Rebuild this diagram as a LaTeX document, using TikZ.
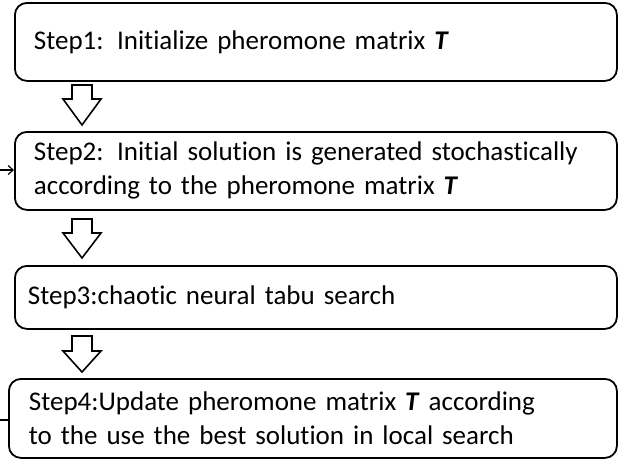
\documentclass[tikz,border=0pt]{standalone}
\usepackage{fontspec}
\setmainfont{Carlito}[Ligatures={NoCommon,NoContextual}]
\usetikzlibrary{arrows.meta}
\tikzset{
  stepbox/.style={draw=black, line width=1.8pt, rounded corners=12pt, anchor=north west,
    align=left, font=\fontsize{27}{34}\selectfont, inner ysep=0pt},
  harrow/.style={draw=black, line width=1.6pt, fill=white, line join=miter},
  link/.style={draw=black, line width=1.2pt}
}
\newcommand\hollowarrow[4]{% x, top, shoulder, tip
  \draw[harrow] (#1-10,#2) -- (#1+10,#2) -- (#1+10,#3) -- (#1+19,#3) -- (#1,#4)
    -- (#1-19,#3) -- (#1-10,#3) -- cycle;}
\begin{document}
\begin{tikzpicture}[x=1pt,y=-1pt]
\useasboundingbox (0,0) rectangle (626,459);
\node[stepbox, minimum width=602pt, minimum height=78pt, text width=564pt, inner xsep=19pt] (s1) at (14,2)
  {Step1: Initialize pheromone matrix \textbf{\textit{T}}};
\node[stepbox, minimum width=602pt, minimum height=78pt, text width=564pt, inner xsep=19pt] (s2) at (14,131)
  {Step2: Initial solution is generated stochastically\\according to the pheromone matrix \textbf{\textit{T}}};
\node[stepbox, minimum width=602pt, minimum height=63pt, text width=576pt, inner xsep=13pt] (s3) at (14,265)
  {Step3:chaotic neural tabu search};
\node[stepbox, minimum width=608pt, minimum height=79pt, text width=568pt, inner xsep=20pt] (s4) at (8,378)
  {Step4:Update pheromone matrix \textbf{\textit{T}} according\\to the use the best solution in local search};
\hollowarrow{82}{85}{99}{125}
\hollowarrow{82}{219}{233}{258}
\hollowarrow{82}{336}{351}{372}
\coordinate (in2) at (0,170);
\coordinate (out4) at (0,420);
\draw[link, -{Straight Barb[length=5pt,width=9pt]}] (in2) -- (in2 -| s2.west);
\draw[link] (out4 -| s4.west) -- (out4);
\end{tikzpicture}
\end{document}
